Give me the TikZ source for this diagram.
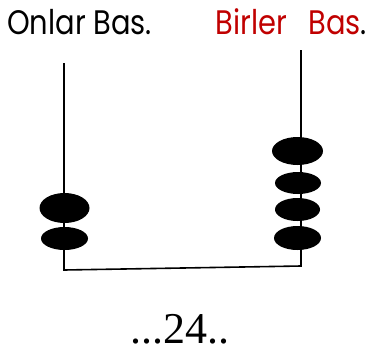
\documentclass[tikz,border=0pt]{standalone}
\usepackage{fontspec}
\newfontfamily\labelfont[FakeStretch=0.85]{Poppins}
\newfontfamily\numfont{Liberation Serif}
\definecolor{unitred}{HTML}{C00000}
\begin{document}
\begin{tikzpicture}[x=1pt,y=-1pt,
  rod/.style={line width=1.6pt},
  bead/.style={fill=black},
  lbl/.style={inner sep=0pt,anchor=base west,font=\labelfont\fontsize{34}{34}\selectfont}]
\useasboundingbox (0,0) rectangle (369,354);
% rods
\coordinate (ltop) at (64,63);
\coordinate (lbot) at (64,270);
\coordinate (rtop) at (301,50);
\coordinate (rbot) at (301,266);
\draw[rod] (ltop) -- (lbot) -- (rbot) -- (rtop);
% tens beads
\fill[bead] (64.5,208) ellipse [x radius=25, y radius=15];
\fill[bead] (64.5,238.5) ellipse [x radius=23.5, y radius=11.5];
% ones beads
\fill[bead] (297.5,151) ellipse [x radius=25.5, y radius=14];
\fill[bead] (298,183) ellipse [x radius=23, y radius=11];
\fill[bead] (297.5,209.5) ellipse [x radius=22.5, y radius=11.5];
\fill[bead] (297.5,238) ellipse [x radius=23.5, y radius=12];
% labels
\node[lbl] (tens) at (7,34.5) {Onlar Bas.};
\node[lbl,anchor=base east,text=unitred] (ones) at (367,34.5) {Birler\hspace{21pt}Bas\textcolor{black}{.}};
\node[inner sep=0pt,anchor=base,font=\numfont\fontsize{44}{44}\selectfont] (num) at (180,343) {...24..};
\end{tikzpicture}
\end{document}
